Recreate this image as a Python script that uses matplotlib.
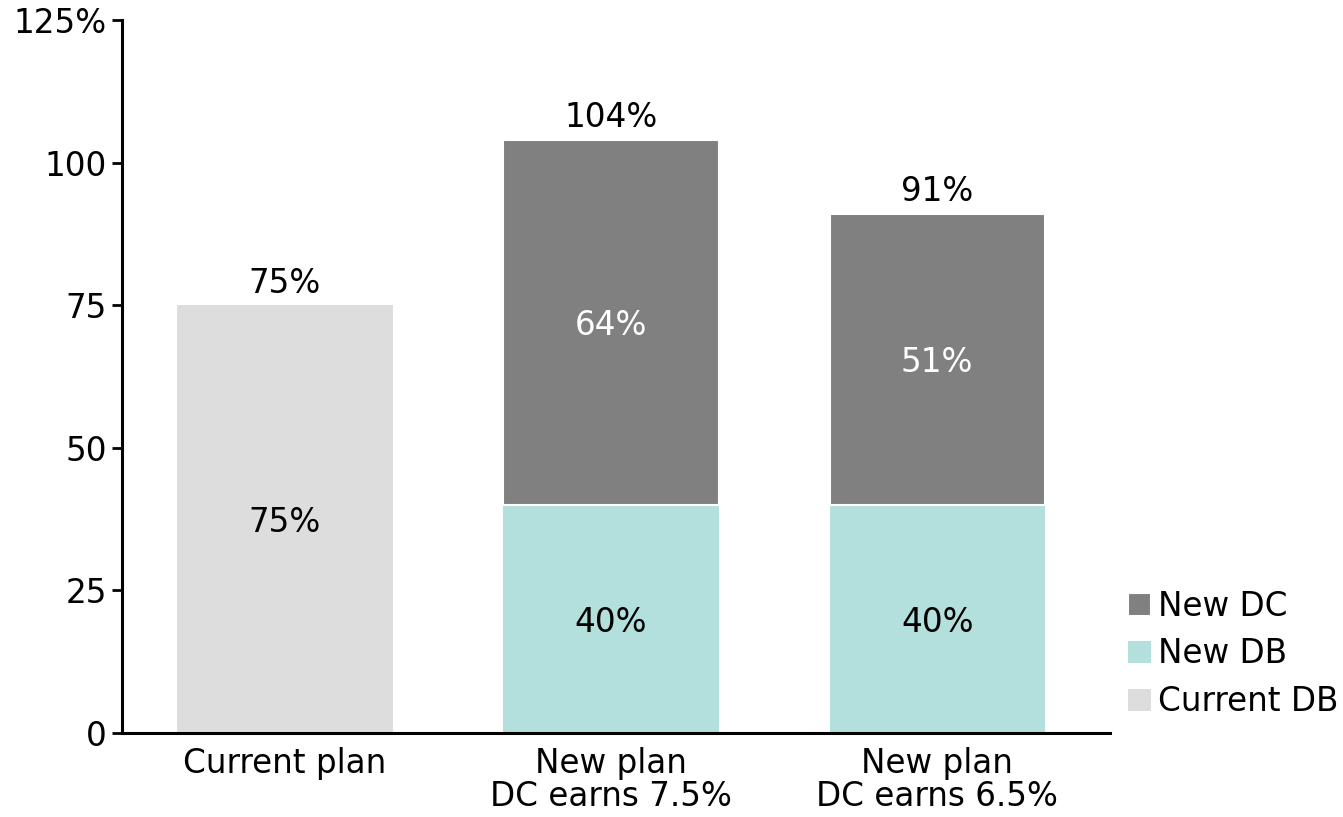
import matplotlib.pyplot as plt
import numpy as np

# data
categories = ["Current plan", "New plan\nDC earns 7.5%", "New plan\nDC earns 6.5%"]
current_db = [75, 0, 0]
new_db = [0, 40, 40]
new_dc = [0, 64, 51]
totals = [75, 104, 91]

col_cur = "#dddddd"
col_db = "#b3dfdd"
col_dc = "#808080"

plt.rcParams["font.family"] = "DejaVu Sans"
fig = plt.figure(figsize=(13.43, 8.17), dpi=100)
ax = fig.add_axes([0.0908, 0.1028, 0.7357, 0.8727])

x = np.arange(len(categories))
w = 0.66
b_cur = ax.bar(x, current_db, w, color=col_cur, label="Current DB")
b_db = ax.bar(x, new_db, w, color=col_db, label="New DB")
b_dc = ax.bar(x, new_dc, w, bottom=new_db, color=col_dc, label="New DC",
              edgecolor="white", linewidth=1.5)

fs = 23.5
# segment labels
for i in range(len(x)):
    if current_db[i] > 0:
        ax.text(x[i], current_db[i] / 2, f"{current_db[i]}%", ha="center", va="center_baseline", fontsize=fs, color="black")
    if new_db[i] > 0:
        ax.text(x[i], new_db[i] / 2, f"{new_db[i]}%", ha="center", va="center_baseline", fontsize=fs, color="black")
    if new_dc[i] > 0:
        ax.text(x[i], new_db[i] + new_dc[i] / 2, f"{new_dc[i]}%", ha="center", va="center_baseline", fontsize=fs, color="white")
    ax.text(x[i], totals[i] + 1.0, f"{totals[i]}%", ha="center", va="bottom", fontsize=fs, color="black")

ax.set_xlim(-0.5, 2.53)
ax.set_ylim(0, 125)
ax.set_yticks([0, 25, 50, 75, 100, 125])
ax.set_yticklabels(["0", "25", "50", "75", "100", "125%"], fontsize=fs)
ax.set_xticks(x)
ax.set_xticklabels(categories, fontsize=fs, linespacing=1.0)
ax.tick_params(axis="x", length=0, pad=10)
ax.tick_params(axis="y", length=7, width=2, pad=4)

for s in ["top", "right"]:
    ax.spines[s].set_visible(False)
ax.spines["left"].set_linewidth(2.2)
ax.spines["bottom"].set_linewidth(2.2)

handles = [b_dc, b_db, b_cur]
labels = ["New DC", "New DB", "Current DB"]
fig.legend(handles, labels, loc="lower left", bbox_to_anchor=(0.828, 0.101),
           frameon=False, fontsize=fs, handlelength=0.68, handleheight=0.68,
           handletextpad=0.22, labelspacing=0.45, borderpad=0)

plt.savefig("out.png", dpi=100)
